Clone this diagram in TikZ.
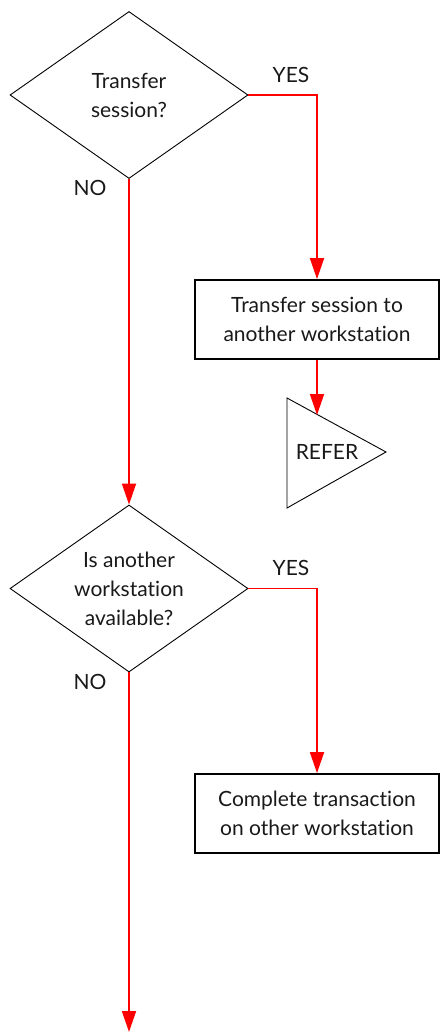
\documentclass[tikz,border=0pt]{standalone}
\usepackage{fontspec}
\setmainfont{Lato}[Ligatures={NoCommon,NoRare}]
\usetikzlibrary{shapes.geometric,arrows.meta}
\begin{document}
\begin{tikzpicture}[x=1pt,y=-1pt,
  every node/.style={font=\fontsize{21}{29}\selectfont, align=center, text=black!90},
  decision/.style={draw=black, line width=0.9pt, diamond, minimum width=238pt, minimum height=167pt, inner sep=-20pt},
  action/.style={draw=black, line width=1.8pt, rectangle, minimum width=244pt, minimum height=79pt, inner sep=0pt},
  flow/.style={draw=red, line width=1.8pt, -{Triangle[length=21pt,width=14pt]}},
  branch/.style={font=\fontsize{21}{24}\selectfont}]
\useasboundingbox (0,0) rectangle (440,1032);

% decisions
\node[decision] (d1) at (129,95) {Transfer\\session?};
\node[decision] (d2) at (129,588.5) {Is another\\workstation\\available?};

% actions
\node[action] (b1) at (317,319.5) {Transfer session to\\another workstation};
\node[action] (b2) at (317,813.5) {Complete transaction\\on other workstation};

% off-page connector
\draw[line width=0.9pt] (287,398) -- (386,452) -- (287,508) -- cycle;
\node (refer) at (327,452) {REFER};
\coordinate (referin) at (317,415);
\coordinate (end) at (129,1032);

% branch labels
\node[branch] (y1) at (291,75) {YES};
\node[branch] (n1) at (90,188) {NO};
\node[branch] (y2) at (291,568) {YES};
\node[branch] (n2) at (90,682) {NO};

% connectors
\draw[flow] (d1.east) -| (b1.north);
\draw[flow] (b1.south) -- (referin);
\draw[flow] (d1.south) -- (d2.north);
\draw[flow] (d2.east) -| (b2.north);
\draw[flow] (d2.south) -- (end);
\end{tikzpicture}
\end{document}
